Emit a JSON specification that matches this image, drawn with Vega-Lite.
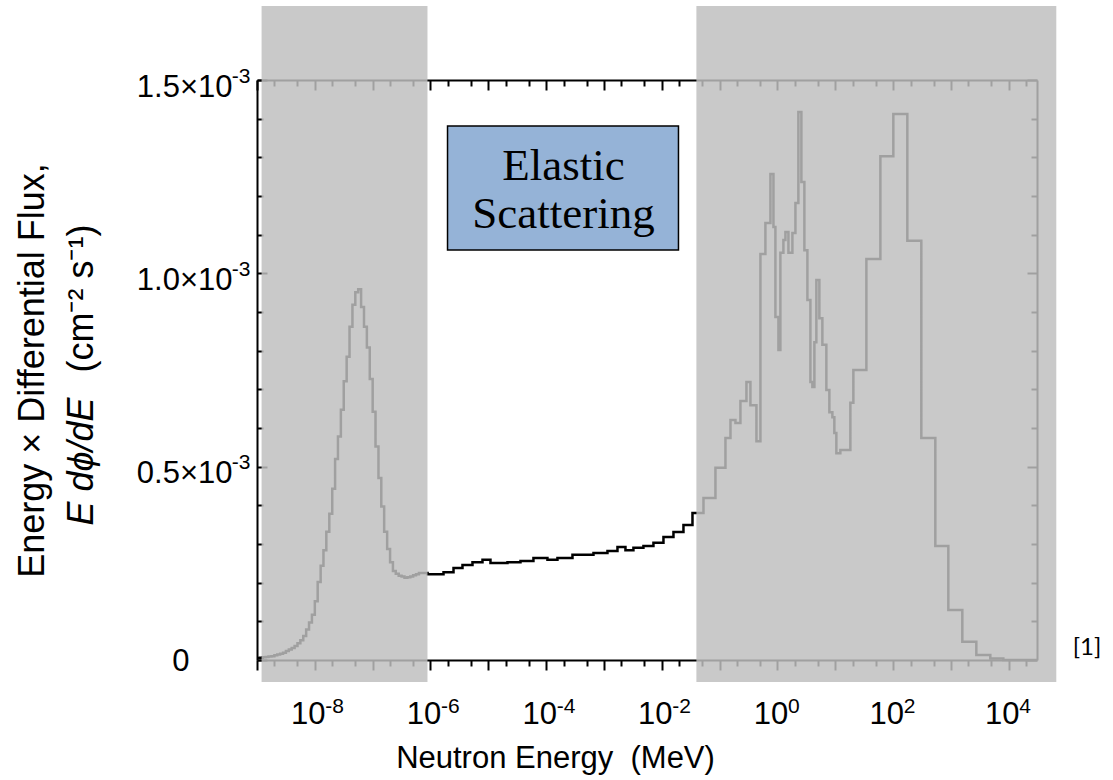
{
  "$schema": "https://vega.github.io/schema/vega-lite/v6.json",
  "width": 780,
  "height": 580,
  "autosize": {"type": "none"},
  "padding": {"left": 257, "top": 80, "right": 76, "bottom": 120},
  "background": "#ffffff",
  "config": {
    "view": {"stroke": null},
    "font": "Liberation Sans",
    "axis": {"grid": false, "domainColor": "#000000", "tickColor": "#000000", "labelColor": "#000000", "titleColor": "#000000", "domainWidth": 2, "labelFont": "Liberation Sans", "titleFont": "Liberation Sans", "titleFontWeight": "normal", "labelOverlap": false, "labelFlush": false}
  },
  "datasets": {
    "spectrum": [
      {"e": 1.00e-9, "f": 0.005e-3}, {"e": 1.12e-9, "f": 0.006e-3}, {"e": 1.26e-9, "f": 0.007e-3}, {"e": 1.41e-9, "f": 0.008e-3},
      {"e": 1.58e-9, "f": 0.009e-3}, {"e": 1.78e-9, "f": 0.010e-3}, {"e": 2.00e-9, "f": 0.012e-3}, {"e": 2.24e-9, "f": 0.014e-3},
      {"e": 2.51e-9, "f": 0.016e-3}, {"e": 2.82e-9, "f": 0.019e-3}, {"e": 3.16e-9, "f": 0.023e-3}, {"e": 3.55e-9, "f": 0.027e-3},
      {"e": 3.98e-9, "f": 0.031e-3}, {"e": 4.47e-9, "f": 0.036e-3}, {"e": 5.01e-9, "f": 0.043e-3}, {"e": 5.62e-9, "f": 0.051e-3},
      {"e": 6.31e-9, "f": 0.062e-3}, {"e": 7.08e-9, "f": 0.079e-3}, {"e": 7.94e-9, "f": 0.097e-3}, {"e": 8.91e-9, "f": 0.117e-3},
      {"e": 1.00e-8, "f": 0.152e-3}, {"e": 1.12e-8, "f": 0.202e-3}, {"e": 1.26e-8, "f": 0.244e-3}, {"e": 1.41e-8, "f": 0.284e-3},
      {"e": 1.58e-8, "f": 0.332e-3}, {"e": 1.78e-8, "f": 0.378e-3}, {"e": 2.00e-8, "f": 0.443e-3}, {"e": 2.24e-8, "f": 0.520e-3},
      {"e": 2.51e-8, "f": 0.578e-3}, {"e": 2.82e-8, "f": 0.647e-3}, {"e": 3.16e-8, "f": 0.721e-3}, {"e": 3.55e-8, "f": 0.784e-3},
      {"e": 3.98e-8, "f": 0.862e-3}, {"e": 4.47e-8, "f": 0.919e-3}, {"e": 5.01e-8, "f": 0.951e-3}, {"e": 5.62e-8, "f": 0.959e-3},
      {"e": 6.31e-8, "f": 0.913e-3}, {"e": 7.08e-8, "f": 0.862e-3}, {"e": 7.94e-8, "f": 0.808e-3}, {"e": 8.91e-8, "f": 0.727e-3},
      {"e": 1.00e-7, "f": 0.642e-3}, {"e": 1.12e-7, "f": 0.552e-3}, {"e": 1.26e-7, "f": 0.471e-3}, {"e": 1.41e-7, "f": 0.397e-3},
      {"e": 1.58e-7, "f": 0.332e-3}, {"e": 1.78e-7, "f": 0.287e-3}, {"e": 2.00e-7, "f": 0.253e-3}, {"e": 2.24e-7, "f": 0.230e-3},
      {"e": 2.51e-7, "f": 0.223e-3}, {"e": 2.82e-7, "f": 0.218e-3}, {"e": 3.16e-7, "f": 0.216e-3}, {"e": 3.55e-7, "f": 0.213e-3},
      {"e": 3.98e-7, "f": 0.214e-3}, {"e": 4.47e-7, "f": 0.216e-3}, {"e": 5.01e-7, "f": 0.219e-3}, {"e": 5.62e-7, "f": 0.222e-3},
      {"e": 6.31e-7, "f": 0.225e-3}, {"e": 7.08e-7, "f": 0.225e-3}, {"e": 7.94e-7, "f": 0.225e-3}, {"e": 8.91e-7, "f": 0.222e-3},
      {"e": 1.000e-6, "f": 0.222e-3}, {"e": 1.679e-6, "f": 0.227e-3}, {"e": 2.500e-6, "f": 0.238e-3}, {"e": 3.573e-6, "f": 0.246e-3},
      {"e": 5.321e-6, "f": 0.253e-3}, {"e": 7.925e-6, "f": 0.259e-3}, {"e": 1.089e-5, "f": 0.251e-3}, {"e": 2.143e-5, "f": 0.253e-3},
      {"e": 3.597e-5, "f": 0.256e-3}, {"e": 6.026e-5, "f": 0.264e-3}, {"e": 1.052e-4, "f": 0.259e-3}, {"e": 1.567e-4, "f": 0.264e-3},
      {"e": 2.851e-4, "f": 0.272e-3}, {"e": 6.577e-4, "f": 0.277e-3}, {"e": 1.148e-3, "f": 0.282e-3}, {"e": 1.710e-3, "f": 0.292e-3},
      {"e": 2.350e-3, "f": 0.284e-3}, {"e": 3.228e-3, "f": 0.290e-3}, {"e": 4.808e-3, "f": 0.295e-3}, {"e": 7.161e-3, "f": 0.303e-3},
      {"e": 1.067e-2, "f": 0.318e-3}, {"e": 1.589e-2, "f": 0.331e-3}, {"e": 2.366e-2, "f": 0.349e-3}, {"e": 3.388e-2, "f": 0.380e-3},
      {"e": 5.248e-2, "f": 0.419e-3}, {"e": 8.453e-2, "f": 0.497e-3}, {"e": 0.1259, "f": 0.574e-3}, {"e": 0.1538, "f": 0.621e-3},
      {"e": 0.1875, "f": 0.613e-3}, {"e": 0.2286, "f": 0.670e-3}, {"e": 0.2904, "f": 0.719e-3}, {"e": 0.3404, "f": 0.659e-3},
      {"e": 0.4325, "f": 0.566e-3}, {"e": 0.5070, "f": 1.050e-3}, {"e": 0.6180, "f": 1.130e-3}, {"e": 0.7551, "f": 1.257e-3},
      {"e": 0.8511, "f": 1.120e-3}, {"e": 0.9204, "f": 0.887e-3}, {"e": 1.038, "f": 0.802e-3}, {"e": 1.122, "f": 1.053e-3},
      {"e": 1.265, "f": 1.086e-3}, {"e": 1.371, "f": 1.107e-3}, {"e": 1.545, "f": 1.053e-3}, {"e": 1.811, "f": 1.104e-3},
      {"e": 2.042, "f": 1.182e-3}, {"e": 2.296, "f": 1.417e-3}, {"e": 2.588, "f": 1.236e-3}, {"e": 2.917, "f": 1.060e-3},
      {"e": 3.289, "f": 0.931e-3}, {"e": 3.707, "f": 0.719e-3}, {"e": 4.009, "f": 0.706e-3}, {"e": 4.345, "f": 0.822e-3},
      {"e": 4.699, "f": 0.983e-3}, {"e": 5.297, "f": 0.884e-3}, {"e": 5.970, "f": 0.815e-3}, {"e": 6.998, "f": 0.698e-3},
      {"e": 7.889, "f": 0.641e-3}, {"e": 8.892, "f": 0.628e-3}, {"e": 9.616, "f": 0.587e-3}, {"e": 10.42, "f": 0.535e-3},
      {"e": 12.22, "f": 0.543e-3}, {"e": 18.20, "f": 0.665e-3}, {"e": 20.51, "f": 0.750e-3}, {"e": 34.43, "f": 1.037e-3},
      {"e": 60.12, "f": 1.303e-3}, {"e": 100.7, "f": 1.412e-3}, {"e": 175.8, "f": 1.084e-3}, {"e": 306.9, "f": 0.574e-3},
      {"e": 535.8, "f": 0.295e-3}, {"e": 899.5, "f": 0.129e-3}, {"e": 1570, "f": 0.047e-3}, {"e": 2742, "f": 0.013e-3},
      {"e": 4786, "f": 0.004e-3}, {"e": 8035, "f": 0}, {"e": 30700, "f": 0}
    ],
    "shade": [
      {"x1": 1.2e-9, "x2": 8.87e-7, "y1": -0.0569e-3, "y2": 1.6914e-3},
      {"x1": 3.96e-2, "x2": 6.62e4, "y1": -0.0569e-3, "y2": 1.6914e-3}
    ],
    "box": [
      {"x1": 1.97e-6, "x2": 1.94e-2, "y1": 1.0603e-3, "y2": 1.381e-3}
    ],
    "boxtext": [
      {"label": "Elastic", "e": 1.99e-4, "f": 1.2414e-3},
      {"label": "Scattering", "e": 1.99e-4, "f": 1.1172e-3}
    ],
    "ref": [
      {"label": "[1]", "e": 2.25e5, "f": 0.0129e-3}
    ]
  },
  "layer": [
    {
      "data": {"name": "spectrum"},
      "mark": {"type": "line", "interpolate": "step-after", "color": "#000000", "strokeWidth": 2.5},
      "encoding": {
        "x": {
          "field": "e", "type": "quantitative",
          "scale": {"type": "log", "domain": [1e-9, 30700], "nice": false},
          "axis": {
            "orient": "bottom",
            "values": [1e-9, 2e-9, 5e-9, 1e-8, 2e-8, 5e-8, 1e-7, 2e-7, 5e-7, 1e-6, 2e-6, 5e-6, 1e-5, 2e-5, 5e-5, 1e-4, 2e-4, 5e-4, 0.001, 0.002, 0.005, 0.01, 0.02, 0.05, 0.1, 0.2, 0.5, 1, 2, 5, 10, 20, 50, 100, 200, 500, 1000, 2000, 5000, 10000, 20000],
            "labelExpr": "abs(log(datum.value)/LN10 - round(log(datum.value)/LN10)) < 0.01 && round(log(datum.value)/LN10) % 2 == 0 ? '10' : ''",
            "tickSize": {"condition": {"test": "abs(log(datum.value)/LN10 - round(log(datum.value)/LN10)) < 0.01", "value": 10}, "value": 6},
            "tickWidth": 2,
            "labelFontSize": 31, "labelAlign": "center", "labelBaseline": "alphabetic", "labelOffset": -7, "labelPadding": 53,
            "title": "Neutron Energy\u00a0 (MeV)", "titleFontSize": 31, "titleX": 298, "titleY": 107, "titleAlign": "center", "titleBaseline": "alphabetic"
          }
        },
        "y": {
          "field": "f", "type": "quantitative",
          "scale": {"domain": [0, 0.0015], "nice": false, "zero": false},
          "axis": {
            "orient": "left",
            "values": [0, 0.0001, 0.0002, 0.0003, 0.0004, 0.0005, 0.0006, 0.0007, 0.0008, 0.0009, 0.001, 0.0011, 0.0012, 0.0013, 0.0014, 0.0015],
            "labelExpr": "datum.value == 0 ? '0' : (abs(datum.value*2000 - round(datum.value*2000)) < 0.01 ? format(datum.value*1000, '.1f') + '×10' : '')",
            "tickSize": {"condition": {"test": "abs(datum.value*2000 - round(datum.value*2000)) < 0.01", "value": -10}, "value": -6},
            "tickWidth": 2,
            "labelFontSize": 31, "labelAlign": "right", "labelBaseline": "middle",
            "labelPadding": {"condition": {"test": "datum.value == 0", "value": 78}, "value": 35},
            "labelOffset": {"condition": {"test": "datum.value == 0", "value": 1}, "value": 7},
            "title": "Energy × Differential Flux,", "titleFontSize": 36, "titleAngle": -90, "titleX": -214, "titleY": 290, "titleAlign": "center", "titleBaseline": "alphabetic"
          }
        }
      }
    },
    {
      "data": {"name": "shade"},
      "mark": {"type": "rect", "color": "#bfbfbf", "opacity": 0.84},
      "encoding": {
        "x": {
          "field": "x1", "type": "quantitative",
          "scale": {"type": "log", "domain": [1e-9, 30700], "nice": false},
          "axis": {
            "orient": "bottom", "values": [1e-8, 1e-6, 1e-4, 0.01, 1, 100, 10000],
            "labelExpr": "'' + round(log(datum.value)/LN10)",
            "ticks": false, "domain": false,
            "labelFontSize": 21, "labelAlign": "left", "labelBaseline": "alphabetic", "labelOffset": 10, "labelPadding": 52,
            "title": null
          }
        },
        "x2": {"field": "x2"},
        "y": {
          "field": "y1", "type": "quantitative",
          "scale": {"domain": [0, 0.0015], "nice": false, "zero": false},
          "axis": {
            "orient": "left", "values": [0.0005, 0.001, 0.0015],
            "labelExpr": "'-3'",
            "ticks": false, "domain": false,
            "labelFontSize": 21, "labelAlign": "right", "labelBaseline": "middle", "labelOffset": -4, "labelPadding": 7,
            "title": "E dϕ/dE", "titleFontSize": 36, "titleFontStyle": "italic", "titleAngle": -90, "titleX": -165, "titleY": 445, "titleAlign": "left", "titleBaseline": "alphabetic"
          }
        },
        "y2": {"field": "y2"}
      }
    },
    {
      "data": {"name": "box"},
      "mark": {"type": "rect", "color": "#95b3d7", "stroke": "#000000", "strokeWidth": 1.5},
      "encoding": {
        "x": {
          "field": "x1", "type": "quantitative",
          "scale": {"type": "log", "domain": [1e-9, 30700], "nice": false},
          "axis": {
            "orient": "top",
            "values": [1e-9, 2e-9, 5e-9, 1e-8, 2e-8, 5e-8, 1e-7, 2e-7, 5e-7, 1e-6, 2e-6, 5e-6, 1e-5, 2e-5, 5e-5, 1e-4, 2e-4, 5e-4, 0.001, 0.002, 0.005, 0.01, 0.02, 0.05, 0.1, 0.2, 0.5, 1, 2, 5, 10, 20, 50, 100, 200, 500, 1000, 2000, 5000, 10000, 20000],
            "labels": false,
            "tickSize": {"condition": {"test": "abs(log(datum.value)/LN10 - round(log(datum.value)/LN10)) < 0.01", "value": -10}, "value": -6},
            "tickWidth": 2,
            "title": null
          }
        },
        "x2": {"field": "x2"},
        "y": {
          "field": "y1", "type": "quantitative",
          "scale": {"domain": [0, 0.0015], "nice": false, "zero": false},
          "axis": {
            "orient": "right",
            "values": [0, 0.0001, 0.0002, 0.0003, 0.0004, 0.0005, 0.0006, 0.0007, 0.0008, 0.0009, 0.001, 0.0011, 0.0012, 0.0013, 0.0014, 0.0015],
            "labels": false,
            "tickSize": {"condition": {"test": "abs(datum.value*2000 - round(datum.value*2000)) < 0.01", "value": -10}, "value": -6},
            "tickWidth": 2,
            "title": "(cm⁻² s⁻¹)", "titleFontSize": 36, "titleAngle": -90, "titleX": -945, "titleY": 292, "titleAlign": "left", "titleBaseline": "alphabetic"
          }
        },
        "y2": {"field": "y2"}
      }
    },
    {
      "data": {"name": "boxtext"},
      "mark": {"type": "text", "font": "Liberation Serif", "fontSize": 45, "align": "center", "baseline": "alphabetic", "color": "#000000"},
      "encoding": {
        "x": {"field": "e", "type": "quantitative", "scale": {"type": "log", "domain": [1e-9, 30700], "nice": false}, "axis": null},
        "y": {"field": "f", "type": "quantitative", "scale": {"domain": [0, 0.0015], "nice": false, "zero": false}, "axis": null},
        "text": {"field": "label"}
      }
    },
    {
      "data": {"name": "ref"},
      "mark": {"type": "text", "font": "Lato", "fontSize": 24, "align": "center", "baseline": "alphabetic", "color": "#000000"},
      "encoding": {
        "x": {"field": "e", "type": "quantitative", "scale": {"type": "log", "domain": [1e-9, 30700], "nice": false}, "axis": null},
        "y": {"field": "f", "type": "quantitative", "scale": {"domain": [0, 0.0015], "nice": false, "zero": false}, "axis": null},
        "text": {"field": "label"}
      }
    }
  ],
  "resolve": {"axis": {"x": "independent", "y": "independent"}}
}
